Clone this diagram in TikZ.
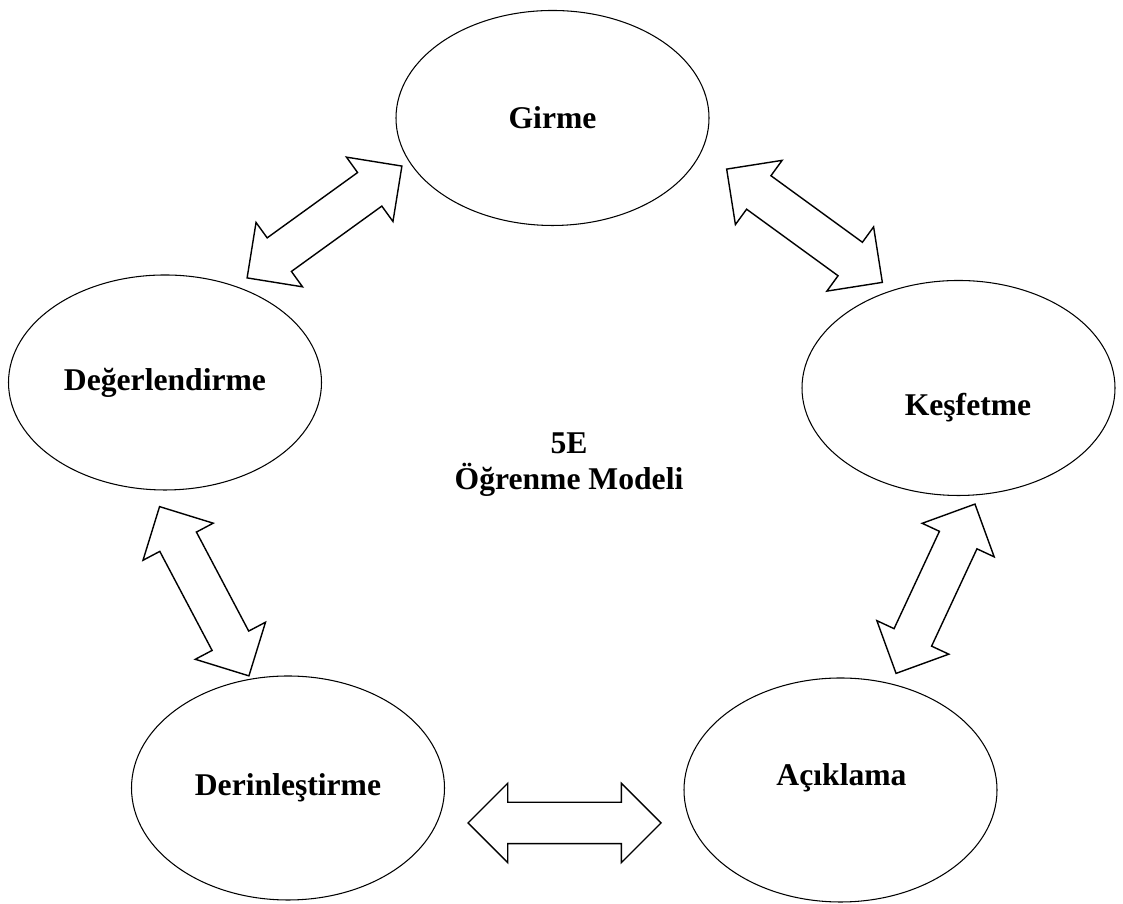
\documentclass[tikz,border=0pt]{standalone}
\usepackage{fontspec}
\setmainfont{Liberation Serif}
\usetikzlibrary{shapes.geometric,shapes.arrows,calc}

\begin{document}
\begin{tikzpicture}[
  every node/.style={font=\fontsize{18}{20.5}\selectfont\bfseries},
  phase/.style={draw,semithick,ellipse,minimum width=6.26cm,minimum height=4.3cm,inner sep=0pt},
  title/.style={align=center},
  twoway/.style={draw,line width=0.8pt,double arrow,double arrow tip angle=90,
    double arrow head extend=0.38cm,inner xsep=0pt,inner ysep=0.4cm}]

  \useasboundingbox (0,0) rectangle (22.46,18.08);

  % the five phases
  \node[phase] (girme) at (11.05,15.72) {Girme};
  \node[phase] (degerlendirme) at (3.30,10.43) {Değerlendirme};
  \node[phase] (kesfetme) at (19.17,10.32) {};
  \node (kesfetme-text) at ($(kesfetme)+(0.19,-0.40)$) {Keşfetme};
  \node[phase,minimum height=4.48cm] (derinlestirme) at (5.76,2.32) {Derinleştirme};
  \node[phase,minimum height=4.48cm] (aciklama) at (16.81,2.28) {};
  \node (aciklama-text) at ($(aciklama)+(0.02,0.24)$) {Açıklama};

  \node[title] (model) at (11.38,8.78) {5E\\Öğrenme Modeli};

  % arrow ends
  \coordinate (ga) at (8.04,14.76);  \coordinate (da) at (4.94,12.52);
  \coordinate (gb) at (14.53,14.70); \coordinate (kb) at (17.65,12.43);
  \coordinate (dc) at (3.19,7.95);   \coordinate (rc) at (4.98,4.56);
  \coordinate (kd) at (19.50,8.00);  \coordinate (ad) at (17.92,4.61);
  \coordinate (re) at (9.36,1.62);   \coordinate (ae) at (13.22,1.62);

  \foreach \a/\b in {ga/da,gb/kb,dc/rc,kd/ad,re/ae}
    \path let \p1=($(\b)-(\a)$), \n1={atan2(\y1,\x1)}, \n2={veclen(\x1,\y1)} in
      node[twoway,rotate=\n1,minimum height=\n2] (arrow-\a) at ($(\a)!0.5!(\b)$) {};
\end{tikzpicture}
\end{document}
